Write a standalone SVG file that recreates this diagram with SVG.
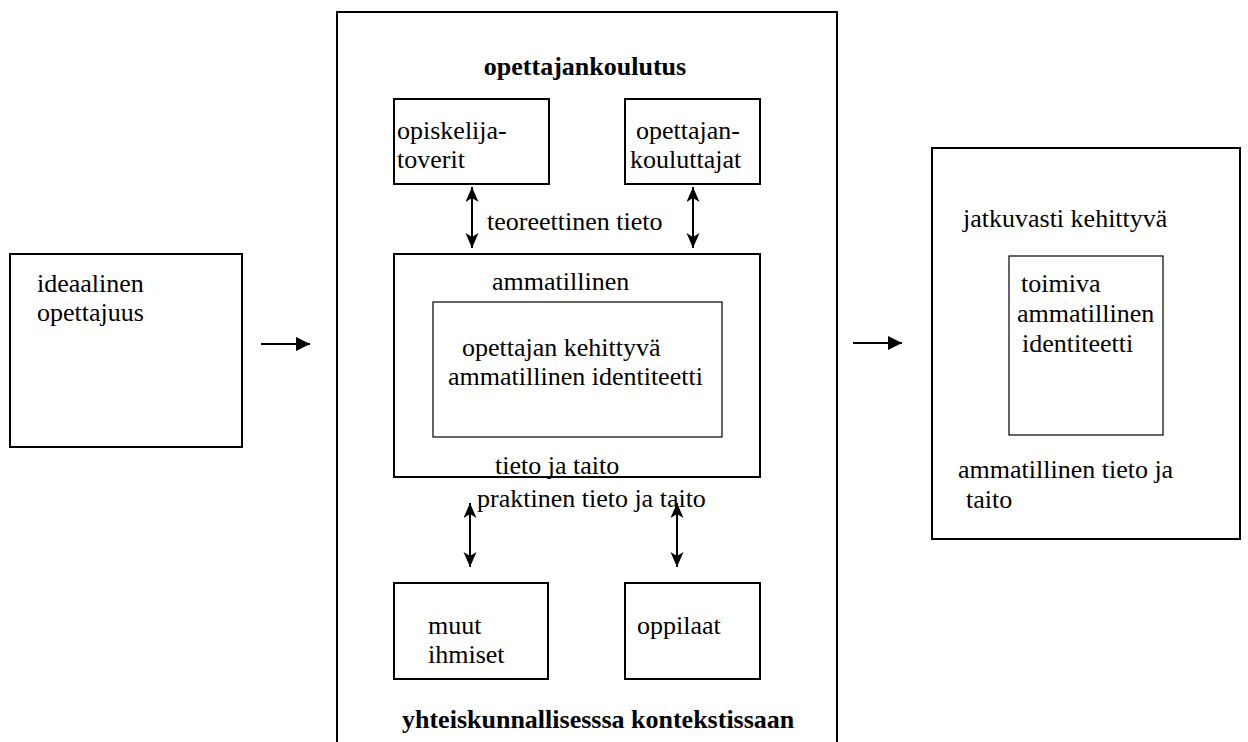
<svg xmlns="http://www.w3.org/2000/svg" width="1248" height="742" viewBox="0 0 1248 742">
<style>
text { font-family: "Liberation Serif", "Times New Roman", serif; font-size: 26px; fill: #000; }
.b { font-weight: bold; }
.box { fill: none; stroke: #000; stroke-width: 2; }
.inner { fill: none; stroke: #000; stroke-width: 1.2; }
.conn { stroke: #000; stroke-width: 2; fill: none; }
</style>
<defs>
<marker id="arr" markerUnits="userSpaceOnUse" markerWidth="16" markerHeight="16" refX="14" refY="7" orient="auto">
<path d="M0,0 L14,7 L0,14 z" fill="#000"/>
</marker>
<marker id="dbl" markerUnits="userSpaceOnUse" markerWidth="16" markerHeight="14" refX="15" refY="6.5" orient="auto-start-reverse">
<path d="M0,0 L15,6.5 L0,13 L4,6.5 z" fill="#000"/>
</marker>
</defs>
<rect width="1248" height="742" fill="#fff"/>

<g id="ideaalinen">
<rect class="box" x="10" y="254" width="232" height="193"/>
<text x="37" y="292">ideaalinen</text>
<text x="37" y="321">opettajuus</text>
</g>

<g id="opettajankoulutus">
<rect class="box" x="337" y="12" width="500" height="750"/>
<text class="b" x="585" y="75" text-anchor="middle">opettajankoulutus</text>
<text class="b" x="402" y="728">yhteiskunnallisesssa kontekstissaan</text>
</g>

<g id="opiskelijatoverit">
<rect class="box" x="394" y="99" width="155" height="85"/>
<text x="397" y="139">opiskelija-</text>
<text x="397" y="168">toverit</text>
</g>

<g id="opettajankouluttajat">
<rect class="box" x="625" y="99" width="135" height="85"/>
<text x="636" y="139">opettajan-</text>
<text x="630" y="168">kouluttajat</text>
</g>

<g id="ammatillinen">
<rect class="box" x="394" y="254" width="366" height="223"/>
<text x="492" y="290">ammatillinen</text>
<text x="495" y="474">tieto ja taito</text>
</g>

<g id="identiteetti">
<rect class="inner" x="433" y="302" width="289" height="135"/>
<text x="462" y="356">opettajan kehittyvä</text>
<text x="448" y="385">ammatillinen identiteetti</text>
</g>

<g id="muut">
<rect class="box" x="394" y="583" width="154" height="96"/>
<text x="428" y="634">muut</text>
<text x="428" y="663">ihmiset</text>
</g>

<g id="oppilaat">
<rect class="box" x="625" y="583" width="135" height="96"/>
<text x="637" y="634">oppilaat</text>
</g>

<g id="toimiva">
<rect class="box" x="932" y="148" width="308" height="391"/>
<text x="963" y="227">jatkuvasti kehittyvä</text>
<text x="958" y="478">ammatillinen tieto ja</text>
<text x="966" y="508">taito</text>
</g>

<g id="toimiva-inner">
<rect class="inner" x="1009" y="256" width="154" height="179"/>
<text x="1021" y="292">toimiva</text>
<text x="1017" y="322">ammatillinen</text>
<text x="1022" y="352">identiteetti</text>
</g>

<g id="connectors">
<line class="conn" x1="261" y1="344" x2="310" y2="344" marker-end="url(#arr)"/>
<line class="conn" x1="853" y1="343" x2="902" y2="343" marker-end="url(#arr)"/>
<line class="conn" x1="472" y1="187" x2="472" y2="248" marker-start="url(#dbl)" marker-end="url(#dbl)"/>
<line class="conn" x1="693" y1="187" x2="693" y2="248" marker-start="url(#dbl)" marker-end="url(#dbl)"/>
<line class="conn" x1="470" y1="503" x2="470" y2="567" marker-start="url(#dbl)" marker-end="url(#dbl)"/>
<line class="conn" x1="677" y1="503" x2="677" y2="567" marker-start="url(#dbl)" marker-end="url(#dbl)"/>
<text x="487" y="230">teoreettinen tieto</text>
<text x="477" y="507">praktinen tieto ja taito</text>
</g>
</svg>
